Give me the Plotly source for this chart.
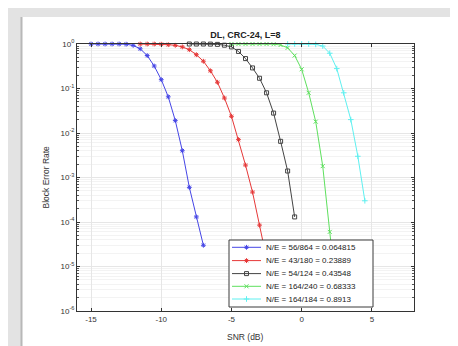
import plotly.graph_objects as go

# ---------------- data ----------------
snr_blue = [-15, -14.5, -14, -13.5, -13, -12.5, -12, -11.5, -11, -10.5, -10, -9.5, -9, -8.5, -8, -7.5, -7]
bler_blue = [1, 1, 1, 1, 1, 0.99, 0.93, 0.78, 0.55, 0.32, 0.158, 0.065, 0.019, 0.0040, 6.0e-4, 1.3e-4, 3.0e-5]

snr_red = [-11.5, -11, -10.5, -10, -9.5, -9, -8.5, -8, -7.5, -7, -6.5, -6, -5.5, -5, -4.5, -4, -3.5, -3, -2.5]
bler_red = [1, 1, 1, 0.99, 0.965, 0.935, 0.86, 0.745, 0.575, 0.41, 0.25, 0.138, 0.061, 0.0237, 0.0071, 0.0019, 4.7e-4, 8.5e-5, 1.5e-5]

snr_black = [-8, -7.5, -7, -6.5, -6, -5.5, -5, -4.5, -4, -3.5, -3, -2.5, -2, -1.5, -1, -0.5]
bler_black = [1, 1, 1, 0.995, 0.98, 0.94, 0.86, 0.68, 0.47, 0.29, 0.17, 0.08, 0.028, 0.0065, 0.0014, 1.3e-4]

snr_green = [-5, -4.5, -4, -3.5, -3, -2.5, -2, -1.5, -1, -0.5, 0, 0.5, 1, 1.5, 2, 2.5]
bler_green = [1, 1, 1, 1, 1, 1, 0.99, 0.95, 0.82, 0.55, 0.27, 0.08, 0.018, 0.0018, 6.0e-5, 2.0e-6]

snr_cyan = [-1, -0.5, 0, 0.5, 1, 1.5, 2, 2.5, 3, 3.5, 4, 4.5]
bler_cyan = [1, 1, 1, 1, 0.98, 0.9, 0.62, 0.28, 0.08, 0.02, 0.003, 3.0e-4]

series_names = [
    "N/E = 56/864 = 0.064815",
    "N/E = 43/180 = 0.23889",
    "N/E = 54/124 = 0.43548",
    "N/E = 164/240 = 0.68333",
    "N/E = 164/184 = 0.8913",
]
title_text = "DL, CRC-24, L=8"
x_label = "SNR (dB)"
y_label = "Block Error Rate"
x_tick_vals = [-15, -10, -5, 0, 5]
x_tick_text = ["-15", "-10", "-5", "0", "5"]
y_tick_vals = [1e-6, 1e-5, 1e-4, 1e-3, 1e-2, 1e-1, 1]
y_tick_text = ["10<sup>-6</sup>", "10<sup>-5</sup>", "10<sup>-4</sup>", "10<sup>-3</sup>",
               "10<sup>-2</sup>", "10<sup>-1</sup>", "10<sup>0</sup>"]

# ---------------- styles ----------------
xs = [snr_blue, snr_red, snr_black, snr_green, snr_cyan]
ys = [bler_blue, bler_red, bler_black, bler_green, bler_cyan]
colors = ["#4646e6", "#e63838", "#444444", "#5ee05e", "#5ef0f0"]
symbols = ["asterisk-open", "asterisk-open", "square-open", "x-thin-open", "cross-thin-open"]
msizes = [4, 4, 4, 4, 4]

W, H = 458, 346
L, R, T, B = 69, 406, 36, 303   # plot-area pixel box
PW, PH = R - L, B - T

def px(xp):
    return (xp - L) / PW

def py(yp):
    return (B - yp) / PH

fig = go.Figure()

for x, y, c, s, ms in zip(xs, ys, colors, symbols, msizes):
    fig.add_trace(go.Scatter(
        x=x, y=y, mode="lines+markers",
        line=dict(color=c, width=1),
        marker=dict(symbol=s, size=ms, color=c, line=dict(color=c, width=1)),
        showlegend=False, cliponaxis=False, hoverinfo="skip",
    ))

# ---------------- manual MATLAB-style legend on an overlay axis ----------------
lx0, lx1 = px(221), px(365)
ly0, ly1 = py(299), py(232)
fig.add_trace(go.Scatter(
    x=[lx0, lx1, lx1, lx0, lx0], y=[ly0, ly0, ly1, ly1, ly0],
    mode="lines", fill="toself", fillcolor="white",
    line=dict(color="#3a3a3a", width=1),
    xaxis="x2", yaxis="y2", showlegend=False, hoverinfo="skip",
))
entry_y = [py(239.3), py(252.6), py(265.6), py(278.3), py(291.0)]
sx0, sx1 = px(224), px(253)
sxm = (sx0 + sx1) / 2
annotations = []
for name, c, s, ms, ey in zip(series_names, colors, symbols, msizes, entry_y):
    fig.add_trace(go.Scatter(
        x=[sx0, sxm, sx1], y=[ey, ey, ey], mode="lines+markers",
        line=dict(color=c, width=1),
        marker=dict(symbol=s, size=ms, color=c, line=dict(color=c, width=1),
                    opacity=[0, 1, 0]),
        xaxis="x2", yaxis="y2", showlegend=False, hoverinfo="skip",
    ))
    annotations.append(dict(
        x=px(256), y=ey, xref="x2", yref="y2", text=name, showarrow=False,
        xanchor="left", yanchor="middle",
        font=dict(family="Liberation Sans, Arial", size=8, color="#222"),
    ))

# axis titles
annotations.append(dict(x=0.5, y=py(329), xref="paper", yref="paper", text=x_label,
                        showarrow=False, xanchor="center", yanchor="middle",
                        font=dict(family="Liberation Sans, Arial", size=8.5, color="#333")))
annotations.append(dict(x=px(37), y=0.5, xref="paper", yref="paper", text=y_label,
                        showarrow=False, xanchor="center", yanchor="middle", textangle=-90,
                        font=dict(family="Liberation Sans, Arial", size=8.5, color="#333")))

minor_y = [k * 10.0 ** n for n in range(-6, 0) for k in range(2, 10)]

shapes = [
    dict(type="rect", xref="paper", yref="paper",
         x0=px(14), x1=px(456), y0=py(342), y1=py(9),
         fillcolor="white", line=dict(width=0), layer="below"),
    dict(type="line", xref="paper", yref="paper",
         x0=px(13.5), x1=px(13.5), y0=py(342), y1=py(9),
         line=dict(color="#b8b8b8", width=2), layer="below"),
]

fig.update_layout(
    width=W, height=H,
    margin=dict(l=L, r=W - R, t=T, b=H - B),
    paper_bgcolor="#e3e3e3", plot_bgcolor="white",
    font=dict(family="Liberation Sans, Arial", size=8, color="#333"),
    title=dict(text="<b>" + title_text + "</b>", xref="paper", x=0.5, xanchor="center",
               yref="container", y=1 - 27 / H, yanchor="middle",
               font=dict(family="Liberation Sans, Arial", size=9, color="#222")),
    xaxis=dict(range=[-16, 8], tickvals=x_tick_vals, ticktext=x_tick_text,
               ticks="inside", ticklen=3, tickcolor="#333",
               showline=True, linecolor="#333", linewidth=1, mirror="ticks",
               showgrid=True, gridcolor="#e6e6e6", gridwidth=1, zeroline=False,
               tickfont=dict(size=8, color="#333")),
    yaxis=dict(type="log", range=[-6, 0], tickvals=y_tick_vals, ticktext=y_tick_text,
               ticks="inside", ticklen=3, tickcolor="#333",
               showline=True, linecolor="#333", linewidth=1, mirror="ticks",
               showgrid=True, gridcolor="#e6e6e6", gridwidth=1, zeroline=False,
               tickfont=dict(size=8, color="#333"),
               minor=dict(tickvals=minor_y, showgrid=True, gridcolor="#f3f3f3",
                          ticks="inside", ticklen=2, tickcolor="#555")),
    xaxis2=dict(overlaying="x", range=[0, 1], visible=False, anchor="y2"),
    yaxis2=dict(overlaying="y", range=[0, 1], visible=False, anchor="x2"),
    annotations=annotations,
    shapes=shapes,
    showlegend=False,
)

fig.write_html("out.html")
